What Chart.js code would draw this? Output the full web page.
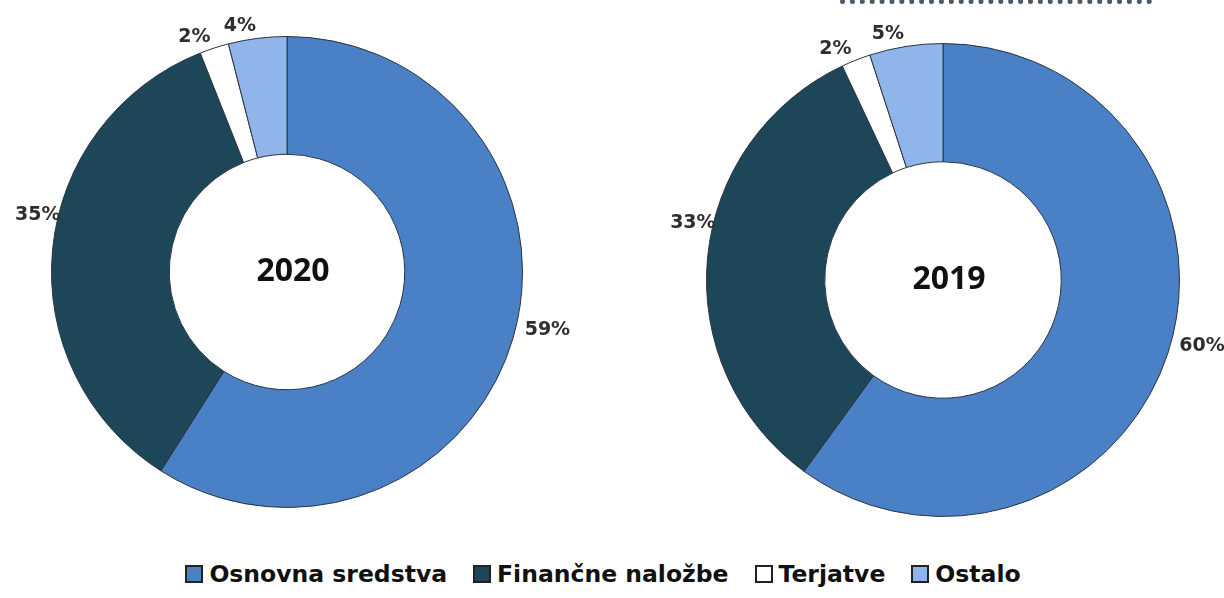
<!DOCTYPE html>
<html>
<head>
<meta charset="utf-8">
<script src="https://cdn.jsdelivr.net/npm/chart.js@4/dist/chart.umd.min.js"></script>
<style>
  html, body { margin: 0; padding: 0; background: #fff; overflow: hidden; }
  #wrap { position: relative; width: 1224px; height: 598px; }
  #c2020 { position: absolute; left: 0; top: 0; }
  #c2019 { position: absolute; left: 620px; top: 0; }
  #dots { position: absolute; left: 840px; top: -1px; width: 312px; border-bottom: 5px dotted #4a5868; }
  #legend {
    position: absolute; left: 0; top: 560px; width: 1206px;
    display: flex; justify-content: center; align-items: center;
    font-family: "DejaVu Sans", sans-serif; font-weight: bold; font-size: 23.5px; color: #111;
  }
  .item { display: flex; align-items: center; margin: 0 13px; }
  .box { width: 14px; height: 14px; border: 2px solid #222; margin-right: 6px; }
</style>
</head>
<body>
<div id="wrap">
  <div id="dots"></div>
  <canvas id="c2020" width="574" height="544"></canvas>
  <canvas id="c2019" width="604" height="560"></canvas>
  <div id="legend"></div>
</div>
<script>
const categories = ["Osnovna sredstva", "Finančne naložbe", "Terjatve", "Ostalo"];
const values2020 = [59, 35, 2, 4];
const values2019 = [60, 33, 2, 5];
const colors = ["#4a80c6", "#1d4659", "#ffffff", "#8fb5ea"];

// percentage labels outside each slice + year in the middle
const labelPlugin = {
  id: "outLabels",
  afterDatasetsDraw(chart, args, opts) {
    const ctx = chart.ctx;
    const meta = chart.getDatasetMeta(0);
    const data = chart.data.datasets[0].data;
    ctx.save();
    ctx.font = "bold 19px 'DejaVu Sans', sans-serif";
    ctx.fillStyle = "#2e2e2e";
    ctx.textBaseline = "middle";
    meta.data.forEach((arc, i) => {
      const mid = (arc.startAngle + arc.endAngle) / 2;
      const r = arc.outerRadius + 12;
      const c = Math.cos(mid);
      let x = arc.x + c * r;
      let y = arc.y + Math.sin(mid) * r;
      // side labels sit higher, like the original
      if (c > 0.9) y -= 11;
      if (c < -0.9) { y -= 34; x += 20; }
      ctx.textAlign = c >= 0 ? "left" : "right";
      ctx.fillText(data[i] + "%", x, y);
    });
    const a = meta.data[0];
    ctx.font = "bold 32px 'Open Sans', sans-serif";
    ctx.fillStyle = "#111";
    ctx.textAlign = "center";
    ctx.fillText(opts.title, a.x + 6, a.y);
    ctx.restore();
  }
};

function makeDonut(id, values, title, padding) {
  return new Chart(document.getElementById(id), {
    type: "doughnut",
    data: {
      labels: categories,
      datasets: [{
        data: values,
        backgroundColor: colors,
        borderColor: "#2b3440",
        borderWidth: 1
      }]
    },
    options: {
      responsive: false,
      animation: false,
      cutout: "50%",
      layout: { padding },
      plugins: {
        legend: { display: false },
        tooltip: { enabled: false },
        outLabels: { title }
      }
    },
    plugins: [labelPlugin]
  });
}

makeDonut("c2020", values2020, "2020", { left: 51, right: 51, top: 36, bottom: 36 });
makeDonut("c2019", values2019, "2019", { left: 86, right: 44, top: 43, bottom: 43 });

const legend = document.getElementById("legend");
categories.forEach((name, i) => {
  const item = document.createElement("div");
  item.className = "item";
  const box = document.createElement("span");
  box.className = "box";
  box.style.background = colors[i];
  const txt = document.createElement("span");
  txt.textContent = name;
  item.appendChild(box);
  item.appendChild(txt);
  legend.appendChild(item);
});
</script>
</body>
</html>
